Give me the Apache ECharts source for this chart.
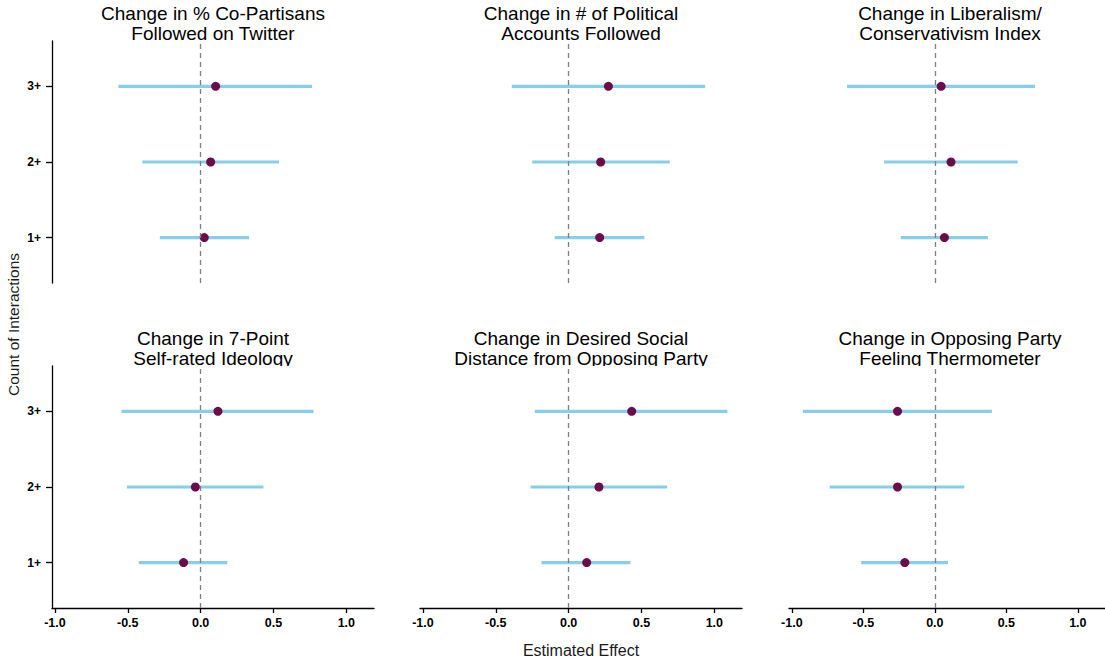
<!DOCTYPE html>
<html>
<head>
<meta charset="utf-8">
<title>Estimated effects by count of interactions</title>
<script src="https://cdn.jsdelivr.net/npm/echarts@6/dist/echarts.min.js"></script>
<style>
  html, body { margin: 0; padding: 0; background: #ffffff; }
  #chart { width: 1105px; height: 661px; }
</style>
</head>
<body>
<div id="chart"></div>
<script>
// ---- data -------------------------------------------------------------
const panelTitles = [
  'Change in % Co-Partisans\nFollowed on Twitter',
  'Change in # of Political\nAccounts Followed',
  'Change in Liberalism/\nConservativism Index',
  'Change in 7-Point\nSelf-rated Ideology',
  'Change in Desired Social\nDistance from Opposing Party',
  'Change in Opposing Party\nFeeling Thermometer'
];

// interaction-count levels, bottom to top
const countLevels = ['1+', '2+', '3+'];

// point estimates, one array per panel, ordered as countLevels
const estimates = [
  [0.025, 0.069, 0.103],
  [0.213, 0.220, 0.273],
  [0.067, 0.113, 0.044],
  [-0.117, -0.036, 0.119],
  [0.124, 0.208, 0.433],
  [-0.210, -0.261, -0.261]
];

// lower confidence bounds
const lowerBounds = [
  [-0.280, -0.400, -0.564],
  [-0.096, -0.250, -0.390],
  [-0.238, -0.355, -0.614],
  [-0.424, -0.506, -0.543],
  [-0.186, -0.261, -0.232],
  [-0.515, -0.735, -0.923]
];

// upper confidence bounds
const upperBounds = [
  [0.332, 0.538, 0.765],
  [0.520, 0.694, 0.937],
  [0.371, 0.580, 0.701],
  [0.183, 0.431, 0.775],
  [0.424, 0.676, 1.090],
  [0.092, 0.206, 0.399]
];

const effectTicks = [-1.0, -0.5, 0.0, 0.5, 1.0];

const xAxisTitle = 'Estimated Effect';
const yAxisTitle = 'Count of Interactions';

// ---- layout & style -----------------------------------------------------
const FONT = "'Liberation Sans', Arial, Helvetica, sans-serif";
const BAR_COLOR = '#87CEEB';
const DOT_COLOR = '#6B0D4B';
const REF_COLOR = '#808080';

const panelLeft = [52, 420, 789];
const panelTop = [41, 366];
const panelW = 322;
const panelH = 242;
const xMin = -1.02, xMax = 1.19;

const grids = [], xAxes = [], yAxes = [], series = [], graphics = [];

panelTitles.forEach((title, i) => {
  const row = Math.floor(i / 3);
  const col = i % 3;
  const left = panelLeft[col];
  const top = panelTop[row];

  grids.push({ left: left, top: top, width: panelW, height: panelH, containLabel: false });

  const showX = row === 1;
  xAxes.push({
    gridIndex: i,
    type: 'value',
    min: xMin,
    max: xMax,
    show: showX,
    axisLine: { show: true, onZero: false, lineStyle: { color: '#000000', width: 1.3 } },
    axisTick: { show: true, customValues: effectTicks, length: 5, lineStyle: { color: '#000000', width: 1.3 } },
    axisLabel: {
      show: true,
      customValues: effectTicks,
      formatter: v => v.toFixed(1),
      margin: 8,
      color: '#000000',
      fontFamily: FONT,
      fontWeight: 'bold',
      fontSize: 12.5
    },
    splitLine: { show: false }
  });

  const showY = col === 0;
  yAxes.push({
    gridIndex: i,
    type: 'value',
    min: 0.4,
    max: 3.6,
    show: showY,
    axisLine: { show: true, onZero: false, lineStyle: { color: '#000000', width: 1.3 } },
    axisTick: { show: true, customValues: [1, 2, 3], length: 6, lineStyle: { color: '#000000', width: 1.3 } },
    axisLabel: {
      show: true,
      customValues: [1, 2, 3],
      formatter: v => countLevels[Math.round(v) - 1],
      margin: 11,
      color: '#000000',
      fontFamily: FONT,
      fontWeight: 'bold',
      fontSize: 12
    },
    splitLine: { show: false }
  });

  // confidence intervals as horizontal segments
  series.push({
    type: 'custom',
    xAxisIndex: i,
    yAxisIndex: i,
    silent: true,
    z: 2,
    encode: { x: [0, 1], y: 2 },
    data: countLevels.map((_, k) => [lowerBounds[i][k], upperBounds[i][k], k + 1]),
    renderItem: (params, api) => {
      const a = api.coord([api.value(0), api.value(2)]);
      const b = api.coord([api.value(1), api.value(2)]);
      return {
        type: 'line',
        shape: { x1: a[0], y1: a[1], x2: b[0], y2: b[1] },
        style: { stroke: BAR_COLOR, lineWidth: 3.2, lineCap: 'butt' }
      };
    },
    markLine: {
      silent: true,
      symbol: 'none',
      label: { show: false },
      lineStyle: { type: [5, 4], color: REF_COLOR, width: 1.3 },
      data: [{ xAxis: 0 }]
    }
  });

  // point estimates
  series.push({
    type: 'scatter',
    xAxisIndex: i,
    yAxisIndex: i,
    silent: true,
    z: 3,
    symbol: 'circle',
    symbolSize: 9,
    itemStyle: { color: DOT_COLOR, opacity: 1 },
    data: estimates[i].map((v, k) => [v, k + 1])
  });

  // panel title, two lines sitting just above the panel
  graphics.push({
    type: 'text',
    z: 0,
    x: left + panelW / 2,
    y: top - 18,
    style: {
      text: title,
      fill: '#000000',
      font: '19px ' + FONT,
      fontSize: 19,
      fontFamily: FONT,
      lineHeight: 20,
      align: 'center',
      verticalAlign: 'middle',
      textAlign: 'center',
      textVerticalAlign: 'middle'
    }
  });

  // panel background strip hides title descenders that run into the panel
  graphics.push({
    type: 'rect',
    z: 1,
    silent: true,
    shape: { x: left + 2, y: top, width: panelW - 2, height: 8 },
    style: { fill: '#ffffff' }
  });
});

// shared axis titles
graphics.push({
  type: 'text',
  z: 0,
  x: panelLeft[1] + panelW / 2,
  y: 650,
  style: {
    text: xAxisTitle,
    fill: '#1a1a1a',
    font: '16px ' + FONT,
    fontSize: 16,
    fontFamily: FONT,
    align: 'center',
    verticalAlign: 'middle',
    textAlign: 'center',
    textVerticalAlign: 'middle'
  }
});
graphics.push({
  type: 'text',
  z: 0,
  x: 13,
  y: (panelTop[0] + panelTop[1] + panelH) / 2,
  rotation: Math.PI / 2,
  style: {
    text: yAxisTitle,
    fill: '#1a1a1a',
    font: '15.5px ' + FONT,
    fontSize: 15.5,
    fontFamily: FONT,
    align: 'center',
    verticalAlign: 'middle',
    textAlign: 'center',
    textVerticalAlign: 'middle'
  }
});

const chart = echarts.init(document.getElementById('chart'), null, { renderer: 'svg' });
chart.setOption({
  animation: false,
  backgroundColor: '#ffffff',
  grid: grids,
  xAxis: xAxes,
  yAxis: yAxes,
  series: series,
  graphic: { elements: graphics }
});
</script>
</body>
</html>
